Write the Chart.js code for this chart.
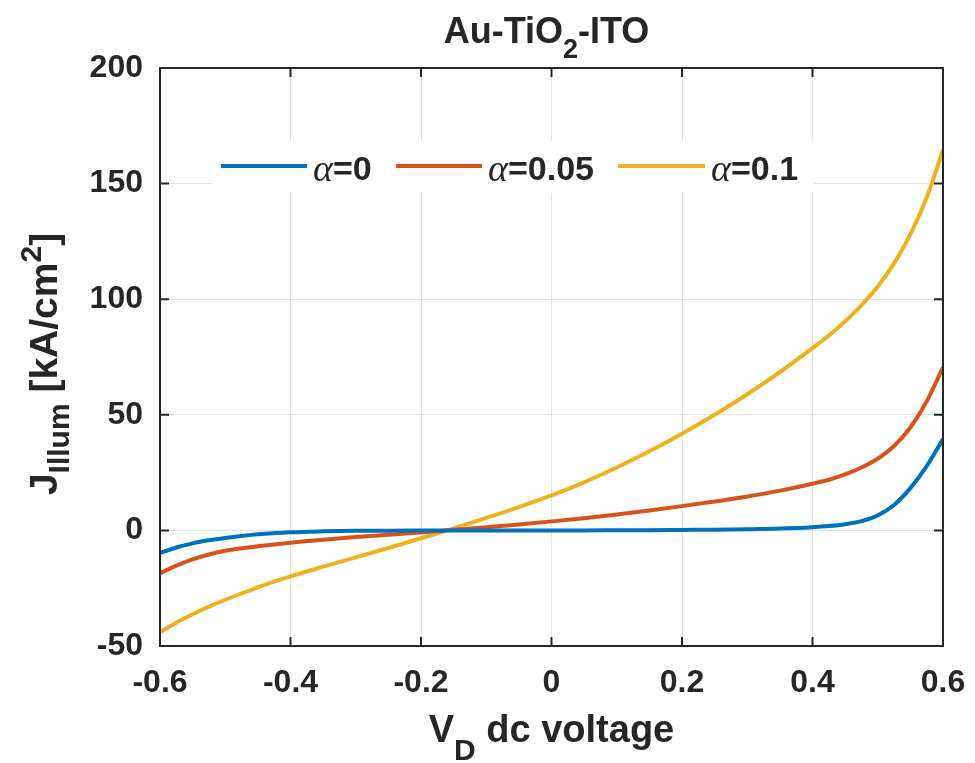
<!DOCTYPE html>
<html>
<head>
<meta charset="utf-8">
<script src="https://cdn.jsdelivr.net/npm/chart.js@4.4.0/dist/chart.umd.min.js"></script>
<style>
  html, body { margin: 0; padding: 0; background: #fff; }
  #wrap { width: 975px; height: 763px; }
</style>
</head>
<body>
<div id="wrap"><canvas id="ivChart" width="975" height="763"></canvas></div>
<script>
// diode voltage (V) and illuminated current density (kA/cm^2) for three alpha values
const voltage = [-0.6, -0.575, -0.55, -0.525, -0.5, -0.45, -0.4, -0.35, -0.3, -0.25, -0.2, -0.15, -0.1, -0.05,
  0, 0.05, 0.1, 0.15, 0.2, 0.25, 0.3, 0.35, 0.4, 0.425, 0.45, 0.475, 0.5, 0.525, 0.55, 0.575, 0.6];
const jAlpha0 = [-9.8, -7.4, -5.6, -4.3, -3.3, -1.7, -0.8, -0.4, -0.2, -0.1, -0.05, 0, 0, 0,
  0, 0, 0.05, 0.1, 0.2, 0.3, 0.5, 0.8, 1.4, 1.9, 2.7, 4.0, 6.5, 11.0, 18.3, 27.8, 39.5];
const jAlpha005 = [-18.5, -15.2, -12.5, -10.4, -8.8, -6.9, -5.3, -4.0, -2.9, -1.9, -0.9, 0.25, 1.4, 2.6,
  3.9, 5.3, 6.9, 8.6, 10.5, 12.5, 14.7, 17.2, 20.2, 21.9, 24.2, 27.2, 31.0, 36.5, 44.5, 55.8, 70.5];
const jAlpha01 = [-44, -39.9, -36.3, -33.0, -30.0, -24.6, -19.9, -15.7, -11.7, -7.6, -3.4, 0.9, 5.4, 10.1,
  15.1, 20.8, 27.2, 34.2, 41.8, 50.0, 58.9, 68.5, 78.8, 84.3, 90.4, 97.3, 105.5, 115.5, 128.0, 144.0, 164.5];

const seriesLabels = ['0', '0.05', '0.1'];
const seriesColors = ['#0072BD', '#D95319', '#EDB120'];
const xTicks = [-0.6, -0.4, -0.2, 0, 0.2, 0.4, 0.6];
const yTicks = [-50, 0, 50, 100, 150, 200];

const ink = '#262626';
const sans = '"Liberation Sans", Arial, sans-serif';

function toPoints(ys) {
  return voltage.map((v, i) => ({ x: v, y: ys[i] }));
}

// draw a row of text pieces (sub/superscripts) centred on x
function drawRuns(ctx, runs, x, y) {
  let total = 0;
  runs.forEach(r => { ctx.font = r.font; total += ctx.measureText(r.text).width; });
  let cx = x - total / 2;
  runs.forEach(r => {
    ctx.font = r.font;
    ctx.fillText(r.text, cx, y + (r.dy || 0));
    cx += ctx.measureText(r.text).width;
  });
}

const decorations = {
  id: 'decorations',
  afterDatasetsDraw(chart) {
    const ctx = chart.ctx;
    const a = chart.chartArea;
    const xs = chart.scales.x, ys = chart.scales.y;
    ctx.save();

    // box and inward tick marks
    ctx.strokeStyle = ink;
    ctx.lineWidth = 2;
    ctx.strokeRect(a.left, a.top, a.right - a.left, a.bottom - a.top);
    const tl = 9;
    ctx.beginPath();
    xTicks.forEach(v => {
      const px = xs.getPixelForValue(v);
      ctx.moveTo(px, a.bottom); ctx.lineTo(px, a.bottom - tl);
      ctx.moveTo(px, a.top); ctx.lineTo(px, a.top + tl);
    });
    yTicks.forEach(v => {
      const py = ys.getPixelForValue(v);
      ctx.moveTo(a.left, py); ctx.lineTo(a.left + tl, py);
      ctx.moveTo(a.right, py); ctx.lineTo(a.right - tl, py);
    });
    ctx.stroke();

    // legend
    ctx.fillStyle = '#fff';
    ctx.fillRect(212, 141, 602, 52);
    const entries = [
      { x0: 221, x1: 307, tx: 313 },
      { x0: 396, x1: 482, tx: 488 },
      { x0: 618, x1: 705, tx: 711 }
    ];
    entries.forEach((e, i) => {
      ctx.strokeStyle = seriesColors[i];
      ctx.lineWidth = 4;
      ctx.beginPath();
      ctx.moveTo(e.x0, 166); ctx.lineTo(e.x1, 166);
      ctx.stroke();
      ctx.fillStyle = ink;
      ctx.textAlign = 'left';
      ctx.textBaseline = 'alphabetic';
      ctx.font = 'italic 38px "Liberation Serif", "Times New Roman", serif';
      ctx.fillText('\u03b1', e.tx, 181);
      const w = ctx.measureText('\u03b1').width;
      ctx.font = 'bold 34px ' + sans;
      ctx.fillText('=' + seriesLabels[i], e.tx + w, 180);
    });
    ctx.restore();
  },
  afterDraw(chart) {
    const ctx = chart.ctx;
    const a = chart.chartArea;
    const midX = (a.left + a.right) / 2;
    const midY = (a.top + a.bottom) / 2;
    ctx.save();
    ctx.fillStyle = ink;
    ctx.textAlign = 'left';
    ctx.textBaseline = 'alphabetic';

    // title
    drawRuns(ctx, [
      { text: 'Au-TiO', font: 'bold 36px ' + sans },
      { text: '2', font: 'bold 27px ' + sans, dy: 15 },
      { text: '-ITO', font: 'bold 36px ' + sans }
    ], midX - 5, 43);

    // x axis title
    drawRuns(ctx, [
      { text: 'V', font: 'bold 38px ' + sans },
      { text: 'D', font: 'bold 30px ' + sans, dy: 18 },
      { text: ' dc voltage', font: 'bold 38px ' + sans }
    ], midX, 742);

    // y axis title
    ctx.translate(57, midY + 7);
    ctx.rotate(-Math.PI / 2);
    drawRuns(ctx, [
      { text: 'J', font: 'bold 39px ' + sans },
      { text: 'Illum', font: 'bold 30px ' + sans, dy: 12 },
      { text: ' [kA/cm', font: 'bold 39px ' + sans },
      { text: '2', font: 'bold 30px ' + sans, dy: -16 },
      { text: ']', font: 'bold 39px ' + sans }
    ], 0, 0);
    ctx.restore();
  }
};

const ctx = document.getElementById('ivChart').getContext('2d');
new Chart(ctx, {
  type: 'line',
  data: {
    datasets: [jAlpha0, jAlpha005, jAlpha01].map((ys, i) => ({
      label: '\u03b1=' + seriesLabels[i],
      data: toPoints(ys),
      borderColor: seriesColors[i],
      borderWidth: 4,
      pointRadius: 0,
      fill: false,
      cubicInterpolationMode: 'monotone'
    }))
  },
  options: {
    responsive: false,
    devicePixelRatio: 1,
    animation: false,
    layout: { padding: { top: 68, right: 32, left: 0, bottom: 0 } },
    plugins: {
      legend: { display: false },
      title: { display: false },
      tooltip: { enabled: false }
    },
    scales: {
      x: {
        type: 'linear',
        min: -0.6,
        max: 0.6,
        afterFit(scale) {
          scale.height = 117;
          scale.paddingLeft = 0;
          scale.paddingRight = 0;
        },
        afterBuildTicks(scale) { scale.ticks = xTicks.map(v => ({ value: v })); },
        grid: { color: '#e2e2e2', lineWidth: 1, drawTicks: false },
        border: { display: false },
        ticks: {
          color: ink,
          padding: 18,
          maxRotation: 0,
          font: { family: sans, size: 32, weight: 'bold' },
          callback: v => (Math.abs(v) < 1e-9 ? '0' : v.toFixed(1))
        }
      },
      y: {
        min: -50,
        max: 200,
        afterFit(scale) {
          scale.width = 160;
          scale.paddingTop = 0;
          scale.paddingBottom = 0;
        },
        afterBuildTicks(scale) { scale.ticks = yTicks.map(v => ({ value: v })); },
        grid: { color: '#e2e2e2', lineWidth: 1, drawTicks: false },
        border: { display: false },
        ticks: {
          color: ink,
          padding: 17,
          font: { family: sans, size: 32, weight: 'bold' },
          callback: v => String(v)
        }
      }
    }
  },
  plugins: [decorations]
});
</script>
</body>
</html>
